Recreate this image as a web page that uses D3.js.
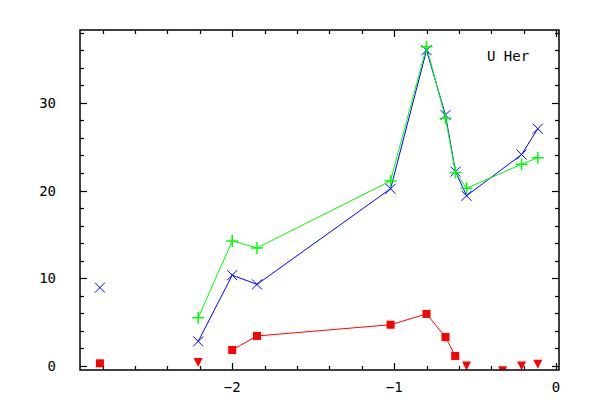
<!DOCTYPE html>
<html>
<head>
<meta charset="utf-8">
<script src="https://cdn.jsdelivr.net/npm/d3@7/dist/d3.min.js"></script>
<style>
html,body{margin:0;padding:0;background:#fff;}
svg{display:block;}
text{font-family:"DejaVu Sans Mono","Liberation Mono",monospace;font-size:14px;fill:#000;}
</style>
</head>
<body>
<svg id="chart" width="600" height="420"></svg>
<script>
// ---- data ----
const title = "U Her";
const xTicks = [-2, -1, 0];
const yTicks = [0, 10, 20, 30];

// blue (x markers), connected line
const blueX = [-2.21, -2.0, -1.847, -1.022, -0.80, -0.683, -0.621, -0.553, -0.213, -0.113];
const blueY = [2.8, 10.35, 9.3, 20.2, 36.0, 28.6, 22.15, 19.4, 24.1, 27.05];
// blue isolated point
const blueSoloX = [-2.817];
const blueSoloY = [8.93];

// green (+ markers), connected line
const greenX = [-2.21, -2.0, -1.847, -1.022, -0.80, -0.683, -0.621, -0.553, -0.213, -0.113];
const greenY = [5.5, 14.25, 13.45, 21.1, 36.4, 28.25, 22.05, 20.25, 23.0, 23.75];
// green points below the axis (clipped)
const greenLowX = [-2.817, -2.58];
const greenLowY = [-1.1, -1.1];

// red squares, connected line
const redX = [-2.0, -1.847, -1.022, -0.80, -0.683, -0.623];
const redY = [1.82, 3.42, 4.7, 5.93, 3.3, 1.14];
// red isolated square
const redSoloX = [-2.817];
const redSoloY = [0.3];
// red upper limits (down triangles)
const redLimX = [-2.21, -0.553, -0.33, -0.213, -0.113];
const redLimY = [0.4, 0.0, -0.55, 0.0, 0.2];

// ---- layout ----
const L = 80, R = 559, T = 30, B = 370;
const svg = d3.select("#chart");
const x = d3.scaleLinear().domain([-2.94, 0.018]).range([L, R]);
const y = d3.scaleLinear().domain([-0.46, 38.3]).range([B, T]);

svg.append("defs").append("clipPath").attr("id","clip")
  .append("rect").attr("x",L).attr("y",T).attr("width",R-L).attr("height",B-T);

const plot = svg.append("g").attr("clip-path","url(#clip)");

function zip(a,b){return a.map((v,i)=>[v,b[i]]);}
const line = d3.line().x(d=>x(d[0])).y(d=>y(d[1]));

// lines
plot.append("path").datum(zip(redX,redY)).attr("d",line)
  .attr("fill","none").attr("stroke","#ff0000").attr("stroke-width",1);
plot.append("path").datum(zip(blueX,blueY)).attr("d",line)
  .attr("fill","none").attr("stroke","#0000ff").attr("stroke-width",1);
plot.append("path").datum(zip(greenX,greenY)).attr("d",line)
  .attr("fill","none").attr("stroke","#00ff00").attr("stroke-width",1);

// markers
function crosses(data,color){
  const s=5;
  plot.append("g").selectAll("path").data(data).join("path")
    .attr("d",d=>{const cx=x(d[0]),cy=y(d[1]);
      return `M${cx-s},${cy-s}L${cx+s},${cy+s}M${cx-s},${cy+s}L${cx+s},${cy-s}`;})
    .attr("stroke",color).attr("stroke-width",1).attr("fill","none");
}
function pluses(data,color){
  const s=6;
  plot.append("g").selectAll("path").data(data).join("path")
    .attr("d",d=>{const cx=x(d[0]),cy=y(d[1]);
      return `M${cx-s},${cy}L${cx+s},${cy}M${cx},${cy-s}L${cx},${cy+s}`;})
    .attr("stroke",color).attr("stroke-width",1.5).attr("fill","none");
}
function squares(data,color){
  const s=4;
  plot.append("g").selectAll("rect").data(data).join("rect")
    .attr("x",d=>x(d[0])-s).attr("y",d=>y(d[1])-s)
    .attr("width",2*s).attr("height",2*s).attr("fill",color);
}
function triangles(data,color){
  const s=4.5;
  plot.append("g").selectAll("path").data(data).join("path")
    .attr("d",d=>{const cx=x(d[0]),cy=y(d[1]);
      return `M${cx-s},${cy-s}L${cx+s},${cy-s}L${cx},${cy+s}Z`;})
    .attr("fill",color);
}

crosses(zip(blueX,blueY),"#0000ff");
crosses(zip(blueSoloX,blueSoloY),"#0000ff");
pluses(zip(greenX,greenY),"#00ff00");
pluses(zip(greenLowX,greenLowY),"#00ff00");
squares(zip(redX,redY),"#ff0000");
squares(zip(redSoloX,redSoloY),"#ff0000");
triangles(zip(redLimX,redLimY),"#ff0000");

// frame
const ax = svg.append("g").attr("stroke","#000").attr("stroke-width",1.5).attr("fill","none");
ax.append("rect").attr("x",L).attr("y",T).attr("width",R-L).attr("height",B-T);

// ticks
const xMinor = d3.range(-2.8, 0.01, 0.2).map(v=>Math.round(v*10)/10);
const yMinor = d3.range(0, 38.1, 2);
const tg = svg.append("g").attr("stroke","#000").attr("stroke-width",1.2);
xMinor.forEach(v=>{
  const major = xTicks.includes(v);
  const len = major?7:4;
  const px = Math.round(x(v))+0.5;
  tg.append("line").attr("x1",px).attr("x2",px).attr("y1",B).attr("y2",B-len);
  tg.append("line").attr("x1",px).attr("x2",px).attr("y1",T).attr("y2",T+len);
});
yMinor.forEach(v=>{
  const major = yTicks.includes(v);
  const len = major?7:4;
  const py = Math.round(y(v))+0.5;
  tg.append("line").attr("y1",py).attr("y2",py).attr("x1",L).attr("x2",L+len);
  tg.append("line").attr("y1",py).attr("y2",py).attr("x1",R).attr("x2",R-len);
});

// tick labels
svg.append("g").selectAll("text").data(xTicks).join("text")
  .attr("x",d=>x(d)).attr("y",392).attr("text-anchor","middle")
  .text(d=>d<0?"\u2212"+Math.abs(d):String(d));
svg.append("g").selectAll("text").data(yTicks).join("text")
  .attr("x",56).attr("y",d=>y(d)+5).attr("text-anchor","end")
  .text(d=>String(d));

// title
svg.append("text").attr("x",487).attr("y",61).text(title);
</script>
</body>
</html>
